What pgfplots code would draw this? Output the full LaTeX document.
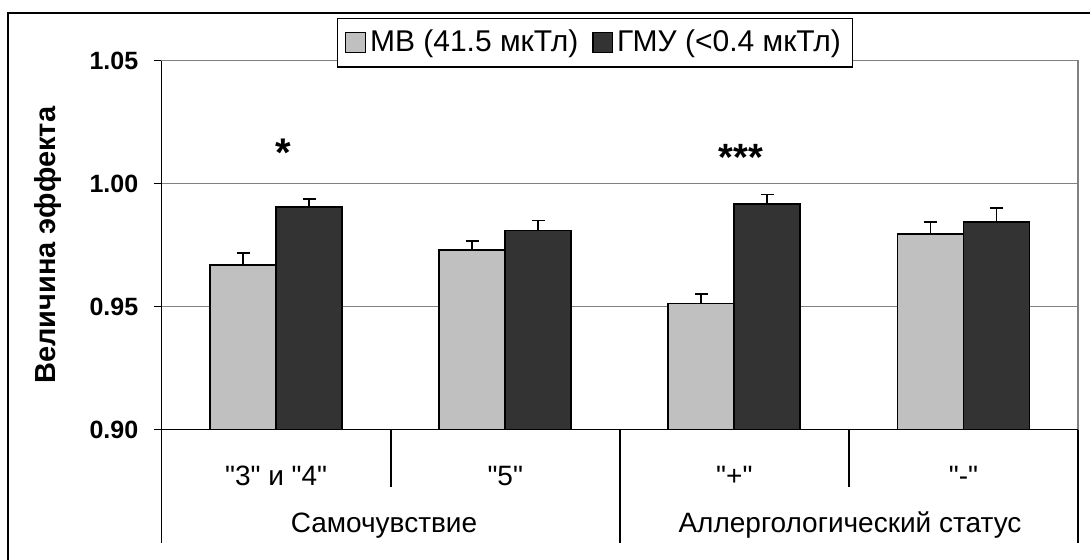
\documentclass[border=0pt]{standalone}
\usepackage{pgfplots}
\usepackage{pgfplotstable}
\pgfplotsset{compat=1.18}
\usepackage{fontspec}
\setmainfont{Liberation Sans}[Ligatures=TeXOff]
\definecolor{lightbar}{HTML}{C0C0C0}
\definecolor{darkbar}{HTML}{333333}
\definecolor{gridgray}{HTML}{808080}
\pgfplotstableread{
x mb mbe gmu gmue
0 0.9670 0.0048 0.9905 0.0032
1 0.9730 0.0037 0.9810 0.0040
2 0.9513 0.0040 0.9916 0.0040
3 0.9795 0.0049 0.9844 0.0056
}\datatable
\begin{document}
\begin{tikzpicture}
\useasboundingbox (0,0) rectangle (545pt,280pt);
\draw[black, line width=1pt] (3.75pt,-2pt) -- (3.75pt,273.5pt) -- (547pt,273.5pt);
\begin{axis}[
  at={(80.8pt,65.15pt)}, anchor=south west,
  scale only axis, width=458.2pt, height=184.5pt,
  clip mode=individual,
  xmin=-0.5, xmax=3.5, ymin=0.9, ymax=1.05,
  ytick={0.9,0.95,1.0,1.05},
  ytick pos=left,
  xtick={0,1,2,3},
  xticklabels={{"3" и "4"},{"5"},{"+"},{"-"}},
  xtick style={draw=none},
  x tick label style={anchor=base, yshift=-24pt, font=\fontsize{14}{16}\selectfont},
  /pgf/number format/assume math mode=true,
  y tick label style={/pgf/number format/fixed, /pgf/number format/fixed zerofill, /pgf/number format/precision=2,
     font=\fontsize{12.5}{15}\selectfont\bfseries, anchor=east, inner sep=0pt, xshift=-7.5pt},
  ytick style={black, line width=0.8pt},
  tick align=outside,
  major tick length=4pt,
  ymajorgrids,
  major grid style={gridgray, line width=0.8pt},
  axis line style={gridgray, line width=0.8pt},
  ylabel={Величина эффекта},
  every axis y label/.style={at={(axis description cs:-0.124,0.5)}, rotate=90, anchor=center,
     font=\fontsize{14.5}{16}\selectfont\bfseries},
  legend columns=2,
  legend style={at={(0.473,1.049)}, anchor=center, draw=black, line width=0.6pt,
     font=\fontsize{15}{17}\selectfont, inner xsep=4pt, inner ysep=4pt,
     /tikz/every even column/.append style={column sep=5pt}},
  legend image code/.code={\draw[#1, line width=0.6pt] (0pt,-4.9pt) rectangle (9.8pt,4.9pt);},
]
\addplot[ybar, bar width=0.288, bar shift=0, fill=lightbar, draw=black, line width=0.9pt,
  error bars/.cd, y dir=plus, y explicit, error mark=|,
  error bar style={line width=0.9pt, black},
  error mark options={line width=0.9pt, mark size=3.3pt, black}]
  table[x expr=\thisrow{x}-0.144, y=mb, y error=mbe] {\datatable};
\addlegendentry{МВ (41.5 мкТл)}
\addplot[ybar, bar width=0.288, bar shift=0, fill=darkbar, draw=black, line width=0.9pt,
  error bars/.cd, y dir=plus, y explicit, error mark=|,
  error bar style={line width=0.9pt, black},
  error mark options={line width=0.9pt, mark size=3.3pt, black}]
  table[x expr=\thisrow{x}+0.144, y=gmu, y error=gmue] {\datatable};
\addlegendentry{ГМУ (<0.4 мкТл)}
\draw[black, line width=0.8pt] (axis cs:-0.5,1.05) -- (axis cs:-0.5,0.9) -- (axis cs:3.5,0.9);
\draw[black, line width=0.8pt] (axis cs:-0.5,0.9) -- ++(0pt,-56.7pt);
\draw[black, line width=0.8pt] (axis cs:0.5,0.9) -- ++(0pt,-28.5pt);
\draw[black, line width=0.8pt] (axis cs:1.5,0.9) -- ++(0pt,-56.7pt);
\draw[black, line width=0.8pt] (axis cs:2.5,0.9) -- ++(0pt,-28.5pt);
\draw[black, line width=0.8pt] (axis cs:3.5,0.9) -- ++(0pt,-56.7pt);
\node[anchor=base, font=\fontsize{20}{22}\selectfont\bfseries] at (axis cs:0.03,1.0068) {*};
\node[anchor=base, font=\fontsize{19}{22}\selectfont\bfseries] at (axis cs:2.029,1.0052) {***};
\end{axis}
\node[anchor=base, font=\fontsize{14}{16}\selectfont] at (192pt,13.5pt) {Самочувствие};
\node[anchor=base, font=\fontsize{14}{16}\selectfont] at (425pt,13.5pt) {Аллергологический статус};
\end{tikzpicture}
\end{document}
